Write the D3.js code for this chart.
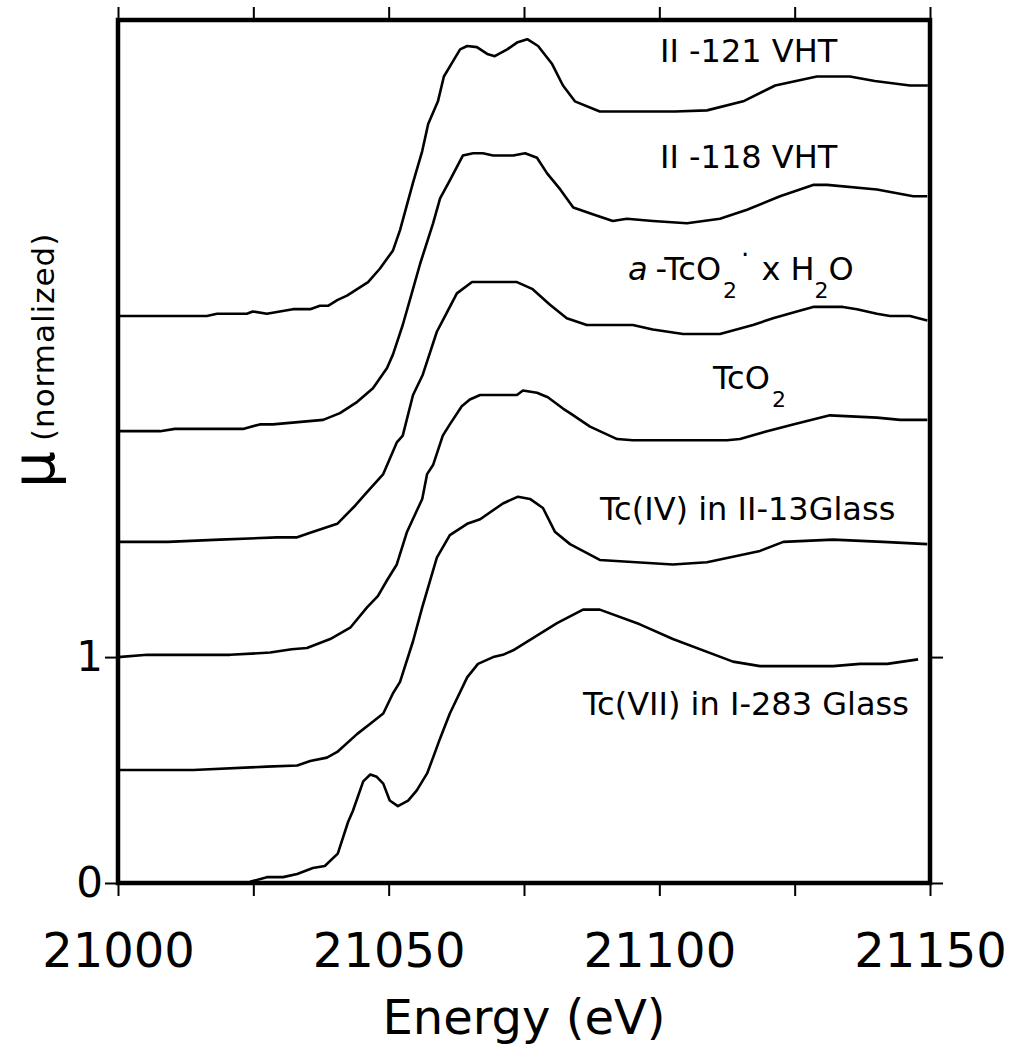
<!DOCTYPE html>
<html>
    <head>
        <meta charset="utf-8">
        <title>Tc K-edge XANES</title>
        <script src="https://d3js.org/d3.v7.min.js"></script>
        <style>
            body {
                margin: 0;
                background-color: #FFFFFF;
                font-family: 'DejaVu Sans', sans-serif;
            }
            svg {
                display: block;
            }
            .curve {
                fill: none;
                stroke: #000000;
                stroke-width: 2.6;
                stroke-linejoin: round;
            }
            .label {
                font-size: 32px;
                fill: #000000;
            }
        </style>
    </head>
    <body>
        <svg id="chart"></svg>
        <script>
            // energy (eV), mu (normalized, offset as plotted)
            const ii121 = [
                [21000, 2.51], [21016.4, 2.51], [21018.3, 2.52], [21023.8, 2.52], [21024.9, 2.53],
                [21027.5, 2.52], [21029.9, 2.53], [21032.3, 2.54], [21035.5, 2.54], [21037.3, 2.555],
                [21038.8, 2.555], [21040.5, 2.58], [21042.3, 2.60], [21046.2, 2.66], [21048.4, 2.72],
                [21050.8, 2.80], [21052.1, 2.89], [21054.5, 3.10], [21056.2, 3.24], [21057.3, 3.36],
                [21059.1, 3.46], [21060.2, 3.57], [21061.7, 3.63], [21063.2, 3.69], [21064.5, 3.705],
                [21066.3, 3.70], [21068.2, 3.67], [21069.6, 3.66], [21071.9, 3.69], [21073.7, 3.72],
                [21075.6, 3.735], [21077.6, 3.705], [21080.2, 3.625], [21082.2, 3.53], [21084.4, 3.46],
                [21089.0, 3.415], [21102.9, 3.415], [21108.8, 3.42], [21115.5, 3.46], [21121.4, 3.53],
                [21129.1, 3.57], [21135.2, 3.57], [21139.8, 3.55], [21146.3, 3.53], [21149.6, 3.53]
            ];
            const ii118 = [
                [21000, 2.00], [21007.8, 2.00], [21010.5, 2.01], [21023.1, 2.01], [21026.2, 2.03],
                [21028.6, 2.03], [21037.9, 2.05], [21041.0, 2.08], [21044.2, 2.13], [21047.1, 2.19],
                [21049.7, 2.28], [21050.8, 2.34], [21052.6, 2.47], [21054.5, 2.63], [21055.8, 2.74],
                [21058.2, 2.92], [21059.5, 3.03], [21061.3, 3.11], [21063.7, 3.22], [21065.6, 3.23],
                [21067.4, 3.23], [21069.3, 3.22], [21073.0, 3.22], [21075.2, 3.23], [21077.4, 3.21],
                [21079.3, 3.14], [21081.7, 3.07], [21084.1, 2.99], [21087.7, 2.96], [21091.4, 2.93],
                [21094.0, 2.94], [21098.8, 2.93], [21105.1, 2.92], [21111.2, 2.94], [21116.2, 2.98],
                [21122.3, 3.04], [21128.4, 3.09], [21131.0, 3.09], [21140.2, 3.07], [21146.9, 3.04],
                [21149.5, 3.04]
            ];
            const aTcO2 = [
                [21000, 1.51], [21009.2, 1.51], [21018.8, 1.52], [21029.4, 1.53], [21033.1, 1.53],
                [21035.5, 1.55], [21040.5, 1.59], [21043.8, 1.67], [21046.0, 1.73], [21049.0, 1.81],
                [21051.5, 1.95], [21052.6, 1.98], [21054.5, 2.16], [21056.3, 2.25], [21058.9, 2.44],
                [21060.0, 2.49], [21062.6, 2.61], [21065.4, 2.66], [21073.7, 2.66], [21076.5, 2.63],
                [21079.8, 2.56], [21082.9, 2.50], [21086.6, 2.47], [21095.1, 2.47], [21098.8, 2.45],
                [21104.4, 2.43], [21111.2, 2.43], [21117.3, 2.47], [21121.0, 2.50], [21125.4, 2.53],
                [21128.4, 2.55], [21133.9, 2.55], [21136.5, 2.54], [21140.2, 2.52], [21142.6, 2.51],
                [21146.3, 2.51], [21149.5, 2.49]
            ];
            const tcO2 = [
                [21000, 1.00], [21005.4, 1.01], [21020.7, 1.01], [21028.1, 1.02], [21032.1, 1.035],
                [21034.9, 1.04], [21039.2, 1.08], [21042.9, 1.13], [21046.0, 1.22], [21048.0, 1.27],
                [21049.7, 1.34], [21051.5, 1.41], [21053.4, 1.555], [21056.2, 1.70], [21057.1, 1.81],
                [21058.2, 1.85], [21060.0, 1.98], [21061.3, 2.03], [21063.5, 2.11], [21065.0, 2.14],
                [21066.9, 2.16], [21073.7, 2.16], [21074.8, 2.18], [21077.4, 2.17], [21079.4, 2.15],
                [21082.2, 2.10], [21083.5, 2.08], [21087.2, 2.02], [21092.2, 1.965], [21095.1, 1.96],
                [21112.5, 1.96], [21114.9, 1.965], [21119.9, 2.00], [21124.7, 2.03], [21131.5, 2.07],
                [21140.2, 2.06], [21144.5, 2.05], [21149.5, 2.05]
            ];
            const tcIV = [
                [21000, 0.50], [21013.9, 0.50], [21027.5, 0.515], [21033.1, 0.52], [21035.5, 0.54],
                [21038.6, 0.555], [21040.5, 0.58], [21044.2, 0.66], [21046.6, 0.705], [21049.0, 0.75],
                [21050.8, 0.84], [21052.1, 0.89], [21054.5, 1.07], [21056.2, 1.22], [21058.9, 1.44],
                [21061.3, 1.54], [21064.5, 1.59], [21066.9, 1.61], [21071.1, 1.68], [21073.9, 1.71],
                [21076.1, 1.70], [21078.5, 1.66], [21080.7, 1.555], [21083.5, 1.50], [21089.0, 1.43],
                [21102.5, 1.41], [21108.8, 1.42], [21118.6, 1.47], [21122.9, 1.51], [21132.1, 1.52],
                [21141.3, 1.51], [21149.5, 1.50]
            ];
            const tcVII = [
                [21024.4, 0.005], [21027.5, 0.026], [21030.5, 0.026], [21033.1, 0.04], [21036.0, 0.066],
                [21038.2, 0.075], [21040.6, 0.13], [21042.5, 0.27], [21043.4, 0.32], [21045.3, 0.45],
                [21046.6, 0.48], [21047.8, 0.47], [21049.0, 0.44], [21050.2, 0.365], [21051.7, 0.34],
                [21053.6, 0.365], [21055.2, 0.41], [21057.1, 0.485], [21058.2, 0.555], [21059.5, 0.64],
                [21061.3, 0.75], [21064.5, 0.91], [21066.5, 0.97], [21069.3, 1.00], [21071.1, 1.01],
                [21073.0, 1.03], [21081.1, 1.15], [21085.9, 1.21], [21089.0, 1.21], [21096.4, 1.145],
                [21102.5, 1.08], [21113.6, 0.98], [21118.6, 0.96], [21132.1, 0.96], [21137.1, 0.97],
                [21142.1, 0.97], [21147.8, 0.99]
            ];

            const xTicks = [21000, 21025, 21050, 21075, 21100, 21125, 21150];
            const xTickLabels = [21000, 21050, 21100, 21150];
            const yTicks = [0, 1];

            const margin = { top: 20, right: 80, bottom: 163, left: 118 };
            const width = 1010;
            const height = 1046;
            const innerW = width - margin.left - margin.right;
            const innerH = height - margin.top - margin.bottom;

            const x = d3.scaleLinear().domain([21000, 21150]).range([0, innerW]);
            const y = d3.scaleLinear().domain([0, 3.82]).range([innerH, 0]);

            const svg = d3.select("#chart")
                .attr("width", width)
                .attr("height", height);

            const g = svg.append("g")
                .attr("transform", `translate(${margin.left}, ${margin.top})`);

            const line = d3.line()
                .x(d => x(d[0]))
                .y(d => y(d[1]));

            g.selectAll(".curve")
                .data([ii121, ii118, aTcO2, tcO2, tcIV, tcVII])
                .enter()
                .append("path")
                .attr("class", "curve")
                .attr("d", line);

            // axes
            const tickStyle = sel => {
                sel.select(".domain").remove();
                sel.selectAll(".tick line").attr("stroke", "#000").attr("stroke-width", 2);
            };

            g.append("g")
                .attr("transform", `translate(0, ${innerH})`)
                .call(d3.axisBottom(x).tickValues(xTicks).tickSize(13).tickPadding(37)
                    .tickFormat(d => xTickLabels.includes(d) ? d : ""))
                .call(tickStyle)
                .selectAll("text")
                .style("font-family", "'DejaVu Sans', sans-serif")
                .style("font-size", "48px")
                .attr("fill", "#000");

            g.append("g")
                .call(d3.axisTop(x).tickValues(xTicks).tickSize(13).tickFormat(""))
                .call(tickStyle);

            g.append("g")
                .call(d3.axisLeft(y).tickValues(yTicks).tickSize(13).tickPadding(2).tickFormat(d3.format("d")))
                .call(tickStyle)
                .selectAll("text")
                .style("font-family", "'DejaVu Sans', sans-serif")
                .style("font-size", "42px")
                .attr("fill", "#000");

            g.append("g")
                .attr("transform", `translate(${innerW}, 0)`)
                .call(d3.axisRight(y).tickValues(yTicks).tickSize(13).tickFormat(""))
                .call(tickStyle);

            g.append("rect")
                .attr("x", 0)
                .attr("y", 0)
                .attr("width", innerW)
                .attr("height", innerH)
                .attr("fill", "none")
                .attr("stroke", "#000")
                .attr("stroke-width", 4.5);

            // axis titles
            svg.append("text")
                .attr("x", margin.left + innerW / 2)
                .attr("y", 1034)
                .attr("text-anchor", "middle")
                .style("font-size", "48px")
                .text("Energy (eV)");

            const yTitle = svg.append("text")
                .attr("transform", "translate(54, 488) rotate(-90)")
                .attr("text-anchor", "start");
            yTitle.append("tspan").style("font-size", "58px").text("\u03bc");
            yTitle.append("tspan").style("font-size", "31px").attr("dx", 10).style("letter-spacing", "1px").text("(normalized)");

            // curve labels
            const labels = ["II -121 VHT", "II -118 VHT", "TcO", "Tc(IV) in II-13Glass", "Tc(VII) in I-283 Glass"];

            const plain = [
                { text: labels[0], px: 660, py: 62 },
                { text: labels[1], px: 660, py: 168 },
                { text: labels[3], px: 600, py: 520 },
                { text: labels[4], px: 583, py: 715 }
            ];
            svg.selectAll(".plain")
                .data(plain)
                .enter()
                .append("text")
                .attr("class", "label plain")
                .attr("x", d => d.px)
                .attr("y", d => d.py)
                .text(d => d.text);

            const tco2 = svg.append("text")
                .attr("class", "label")
                .attr("x", 713)
                .attr("y", 389);
            tco2.append("tspan").text(labels[2]);
            tco2.append("tspan").attr("dx", 2).attr("dy", 18).style("font-size", "22px").text("2");

            const hydr = svg.append("text")
                .attr("class", "label")
                .attr("x", 628)
                .attr("y", 280);
            hydr.append("tspan").style("font-style", "italic").text("a");
            hydr.append("tspan").attr("dx", 8).text("-TcO");
            hydr.append("tspan").attr("dx", 2).attr("dy", 18).style("font-size", "22px").text("2");
            hydr.append("tspan").attr("dx", 4).attr("dy", -34).style("font-size", "26px").text("\u00b7");
            hydr.append("tspan").attr("dx", 12).attr("dy", 16).text("x H");
            hydr.append("tspan").attr("dx", 0).attr("dy", 18).style("font-size", "22px").text("2");
            hydr.append("tspan").attr("dx", 0).attr("dy", -18).text("O");
        </script>
    </body>
</html>
